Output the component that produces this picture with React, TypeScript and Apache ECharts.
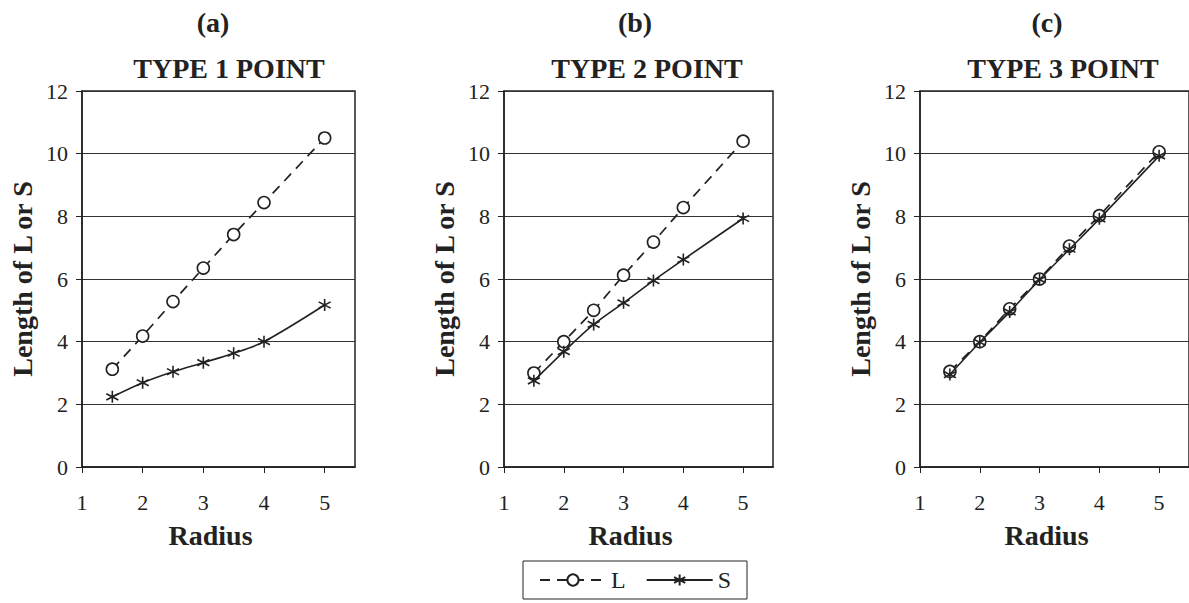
import React, { useEffect, useRef } from "react";
import * as echarts from "echarts";

const RADIUS = [1.5, 2, 2.5, 3, 3.5, 4, 5];
const L_A = [3.12, 4.18, 5.28, 6.35, 7.42, 8.44, 10.5];
const S_A = [2.24, 2.69, 3.04, 3.33, 3.63, 4.0, 5.17];
const L_B = [3.0, 4.0, 5.0, 6.12, 7.18, 8.28, 10.4];
const S_B = [2.75, 3.68, 4.55, 5.24, 5.95, 6.62, 7.93];
const L_C = [3.05, 4.0, 5.05, 6.0, 7.05, 8.02, 10.06];
const S_C = [2.95, 3.98, 4.95, 5.98, 6.95, 7.92, 9.93];
const PANEL_LABELS = ["(a)", "(b)", "(c)"];
const PANEL_TITLES = ["TYPE 1 POINT", "TYPE 2 POINT", "TYPE 3 POINT"];

const FONT = "'Liberation Serif', 'Times New Roman', serif";
const INK = "#222";
const ASTERISK = "path://M5,0L5,10M0.8,2.4L9.2,7.6M0.8,7.6L9.2,2.4";

export default function App() {
  const ref = useRef<HTMLDivElement>(null);
  useEffect(() => {
    document.body.style.margin = "0";
    if (!ref.current) return;
    const chart = echarts.init(ref.current, null, { renderer: "svg" });
    const grids = [
      { left: 82, top: 91, width: 273, height: 376 },
      { left: 504, top: 91, width: 269, height: 376 },
      { left: 920, top: 91, width: 275, height: 376 },
    ];
    const Ls = [L_A, L_B, L_C];
    const Ss = [S_A, S_B, S_C];
    const titleCenters = [
      [213, 229],
      [635, 647],
      [1047, 1063],
    ];
    const series: any[] = [];
    for (let i = 0; i < 3; i++) {
      series.push({
        name: "L",
        type: "line",
        xAxisIndex: i,
        yAxisIndex: i,
        data: RADIUS.map((x, k) => [x, Ls[i][k]]),
        symbol: "circle",
        symbolSize: 12,
        lineStyle: { color: INK, width: 1.7, type: [10, 7] },
        itemStyle: { color: "#fff", borderColor: INK, borderWidth: 1.6 },
        z: 3,
      });
      series.push({
        name: "S",
        type: "line",
        xAxisIndex: i,
        yAxisIndex: i,
        smooth: 0.3,
        data: RADIUS.map((x, k) => [x, Ss[i][k]]),
        symbol: ASTERISK,
        symbolSize: 12,
        lineStyle: { color: INK, width: 1.6 },
        itemStyle: { color: INK, borderColor: INK, borderWidth: 1.6 },
        z: 4,
      });
    }
    const graphic: any[] = [];
    for (let i = 0; i < 3; i++) {
      graphic.push({
        type: "text",
        x: titleCenters[i][0],
        y: 22,
        style: {
          text: PANEL_LABELS[i],
          font: `bold 28px ${FONT}`,
          fill: INK,
          textAlign: "center",
          textVerticalAlign: "middle",
        },
      });
      graphic.push({
        type: "text",
        x: titleCenters[i][1],
        y: 68,
        style: {
          text: PANEL_TITLES[i],
          font: `bold 28px ${FONT}`,
          fill: INK,
          textAlign: "center",
          textVerticalAlign: "middle",
        },
      });
    }
    chart.setOption({
      animation: false,
      backgroundColor: "#fff",
      grid: grids.map((g) => ({
        ...g,
        show: true,
        borderColor: INK,
        borderWidth: 1.5,
        backgroundColor: "transparent",
      })),
      xAxis: grids.map((_, i) => ({
        type: "value",
        gridIndex: i,
        min: 1,
        max: 5.5,
        interval: 1,
        name: "Radius",
        nameLocation: "middle",
        nameGap: 54,
        nameTextStyle: {
          fontFamily: FONT,
          fontSize: 28,
          fontWeight: "bold",
          color: INK,
          padding: [0, 16, 0, 0],
        },
        axisLine: { show: true, lineStyle: { color: INK, width: 1.5 } },
        axisTick: { show: true, length: 6, lineStyle: { color: INK } },
        axisLabel: {
          fontFamily: FONT,
          fontSize: 22,
          color: INK,
          margin: 24,
          showMaxLabel: false,
        },
        splitLine: { show: false },
      })),
      yAxis: grids.map((_, i) => ({
        type: "value",
        gridIndex: i,
        min: 0,
        max: 12,
        interval: 2,
        name: "Length of L or S",
        nameLocation: "middle",
        nameGap: 46,
        nameTextStyle: {
          fontFamily: FONT,
          fontSize: 28,
          fontWeight: "bold",
          color: INK,
        },
        axisLine: { show: true, lineStyle: { color: INK, width: 1.5 } },
        axisTick: { show: true, length: 6, lineStyle: { color: INK } },
        axisLabel: { fontFamily: FONT, fontSize: 22, color: INK, margin: 14 },
        splitLine: { show: true, lineStyle: { color: "#333", width: 1 } },
      })),
      legend: {
        data: ["L", "S"],
        left: 523,
        top: 561,
        orient: "horizontal",
        itemWidth: 66,
        itemHeight: 14,
        itemGap: 20,
        padding: [7, 16],
        borderColor: INK,
        borderWidth: 1,
        textStyle: { fontFamily: FONT, fontSize: 24, color: INK },
      },
      series,
      graphic,
    });
    return () => chart.dispose();
  }, []);
  return <div ref={ref} style={{ width: 1189, height: 603 }} />;
}
